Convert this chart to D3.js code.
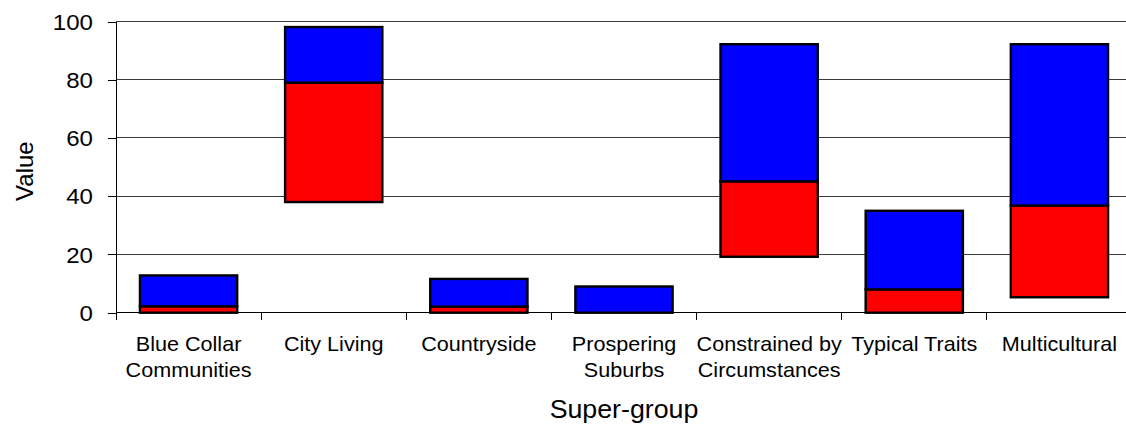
<!DOCTYPE html>
<html>
<head>
<meta charset="utf-8">
<script src="https://cdn.jsdelivr.net/npm/d3@7/dist/d3.min.js"></script>
<style>
  html, body { margin: 0; padding: 0; background: #fff; }
  svg { display: block; }
  text { font-family: Arial, "Liberation Sans", sans-serif; fill: #000; }
</style>
</head>
<body>
<svg id="chart" width="1126" height="425"></svg>
<script>
const categories = ["Blue Collar Communities", "City Living", "Countryside", "Prospering Suburbs", "Constrained by Circumstances", "Typical Traits", "Multicultural"];
const categoryLines = [["Blue Collar", "Communities"], ["City Living"], ["Countryside"], ["Prospering", "Suburbs"], ["Constrained by", "Circumstances"], ["Typical Traits"], ["Multicultural"]];
const lowValues  = [0, 38, 0, 0, 19.2, 0, 5.3];
const midValues  = [2.2, 79, 2.1, 0, 45.1, 8, 36.8];
const highValues = [12.8, 98.1, 11.6, 9, 92.2, 35, 92.2];
const yTicks = [0, 20, 40, 60, 80, 100];
const xTitle = "Super-group";
const yTitle = "Value";

(function () {
const svg = d3.select("#chart");
const pL = 116, pR = 1132, pT = 21.5, pB = 312.7;

const x = d3.scaleBand().domain(categories).range([pL, pR]).paddingInner(0.33).paddingOuter(0.165);
const y = d3.scaleLinear().domain([0, 100]).range([pB, pT]);

// gridlines
svg.append("g").selectAll("line").data(yTicks).join("line")
  .attr("x1", pL).attr("x2", pR)
  .attr("y1", d => y(d)).attr("y2", d => y(d))
  .attr("stroke", "#3a3a3a").attr("stroke-width", 1).attr("shape-rendering", "crispEdges");

// y axis
const yAxis = d3.axisLeft(y).tickValues(yTicks).tickSize(8).tickFormat(d3.format("d"));
const gy = svg.append("g").attr("transform", `translate(${pL},0)`).call(yAxis);
gy.select(".domain").attr("stroke", "#000").attr("shape-rendering", "crispEdges").attr("d", `M0,${pB}V${pT}`);
gy.selectAll(".tick line").attr("stroke", "#000").attr("shape-rendering", "crispEdges");
gy.selectAll(".tick text").remove();
gy.selectAll(".tick").append("text")
  .attr("transform", "translate(-23,0) scale(1.12,1)")
  .attr("text-anchor", "end").attr("dy", "0.36em")
  .style("font-size", "21.5px")
  .text(d => d);

// x axis line and boundary ticks
const step = x.step();
const boundaries = categories.map(c => x(c) - step * x.paddingInner() / 2).concat([x(categories[categories.length - 1]) + x.bandwidth() + step * x.paddingInner() / 2]);
svg.append("line").attr("x1", pL).attr("x2", pR).attr("y1", pB).attr("y2", pB)
  .attr("stroke", "#000").attr("shape-rendering", "crispEdges");
svg.append("g").selectAll("line").data(boundaries).join("line")
  .attr("x1", d => d).attr("x2", d => d).attr("y1", pB).attr("y2", pB + 7)
  .attr("stroke", "#000").attr("shape-rendering", "crispEdges");

// bars
const rows = categories.map((c, i) => ({c, low: lowValues[i], mid: midValues[i], high: highValues[i]}));
const g = svg.append("g");
g.selectAll("rect.red").data(rows.filter(d => d.mid > d.low)).join("rect").attr("class", "red")
  .attr("x", d => x(d.c)).attr("width", x.bandwidth())
  .attr("y", d => y(d.mid)).attr("height", d => y(d.low) - y(d.mid))
  .attr("fill", "#ff0000").attr("stroke", "#000").attr("stroke-width", 2.4);
g.selectAll("rect.blue").data(rows).join("rect").attr("class", "blue")
  .attr("x", d => x(d.c)).attr("width", x.bandwidth())
  .attr("y", d => y(d.high)).attr("height", d => y(d.mid) - y(d.high))
  .attr("fill", "#0000ff").attr("stroke", "#000").attr("stroke-width", 2.4);

// category labels
const lab = svg.append("g").selectAll("g").data(rows).join("g")
  .attr("transform", d => `translate(${x(d.c) + x.bandwidth() / 2},0)`);
lab.each(function(d, i) {
  const sel = d3.select(this);
  categoryLines[i].forEach((line, j) => {
    sel.append("text")
      .attr("transform", `translate(0,${351 + j * 25.7}) scale(1.08,1)`)
      .attr("text-anchor", "middle")
      .style("font-size", "20px")
      .text(line);
  });
});

// axis titles
svg.append("text")
  .attr("transform", `translate(${(pL + pR) / 2},418) scale(1.05,1)`)
  .attr("text-anchor", "middle").style("font-size", "25.5px").text(xTitle);
svg.append("text")
  .attr("transform", `translate(33,${(pT + pB) / 2 + 4}) rotate(-90)`)
  .attr("text-anchor", "middle").style("font-size", "24px").text(yTitle);
})();
</script>
</body>
</html>
